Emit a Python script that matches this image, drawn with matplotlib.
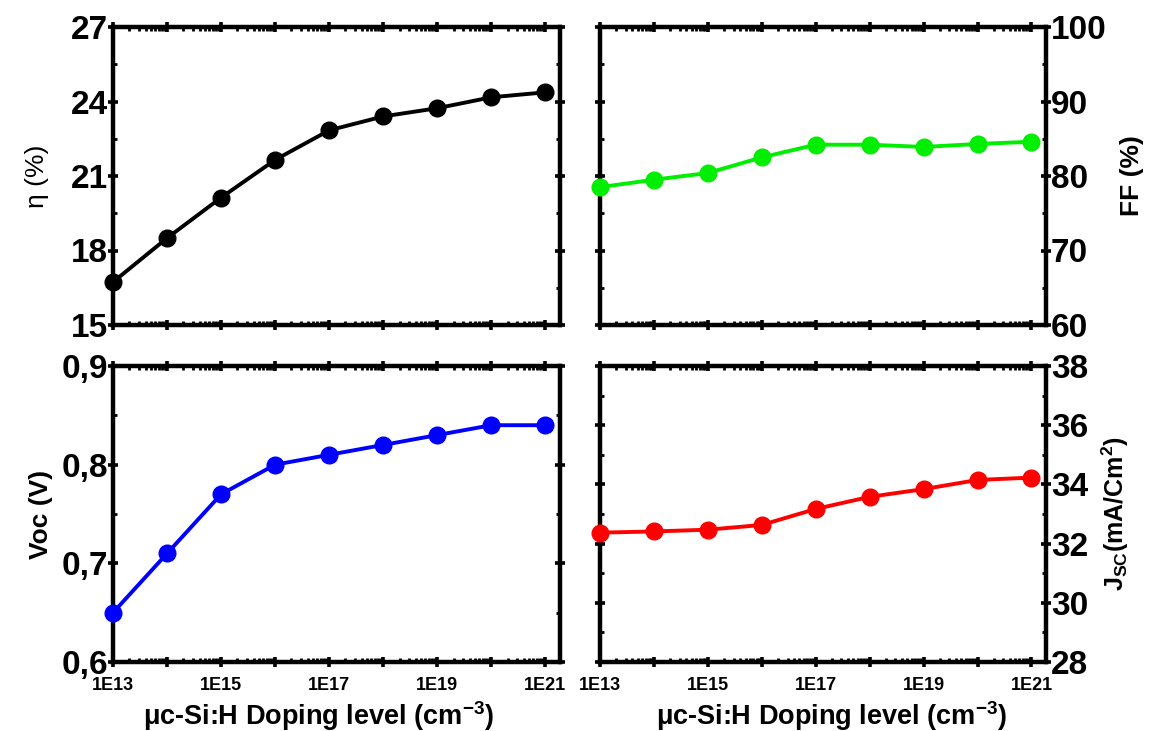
import numpy as np
import matplotlib
matplotlib.use("Agg")
import matplotlib.pyplot as plt
from matplotlib.ticker import LogLocator, FixedLocator, MultipleLocator, NullFormatter, FuncFormatter

plt.rcParams['font.family'] = ['Liberation Sans', 'DejaVu Sans']
plt.rcParams['font.weight'] = 'bold'
plt.rcParams['mathtext.fontset'] = 'custom'
plt.rcParams['mathtext.rm'] = 'Liberation Sans:bold'
plt.rcParams['mathtext.bf'] = 'Liberation Sans:bold'
plt.rcParams['mathtext.default'] = 'bf'

# doping levels of the uc-Si:H layer (cm^-3)
doping = [1e13, 1e14, 1e15, 1e16, 1e17, 1e18, 1e19, 1e20, 1e21]

eta = [16.73, 18.5, 20.13, 21.65, 22.84, 23.4, 23.73, 24.17, 24.37]
ff = [78.5, 79.5, 80.4, 82.5, 84.2, 84.2, 83.9, 84.3, 84.6]
voc = [0.65, 0.71, 0.77, 0.80, 0.81, 0.82, 0.83, 0.84, 0.84]
jsc = [32.37, 32.41, 32.47, 32.63, 33.17, 33.58, 33.84, 34.15, 34.23]

x_labels = ['1E13', '', '1E15', '', '1E17', '', '1E19', '', '1E21']

fig = plt.figure(figsize=(11.51, 7.31), dpi=100)

W, H = 1151.0, 731.0
def box(l, r, t, b):
    return [l / W, 1 - b / H, (r - l) / W, (b - t) / H]

ax_eta = fig.add_axes(box(113, 560, 27, 325))
ax_ff = fig.add_axes(box(600, 1046, 27, 325))
ax_voc = fig.add_axes(box(113, 560, 366, 662))
ax_jsc = fig.add_axes(box(600, 1046, 366, 662))


def style(ax, y, color, ylim, major, minor, bottom_row, right_side, fmt=None):
    ax.plot(doping, y, '-o', color=color, lw=2.8, ms=12, clip_on=False, zorder=3)
    ax.set_xscale('log')
    ax.set_xlim(1e13, 10 ** 21.27)
    ax.set_ylim(*ylim)
    ax.xaxis.set_major_locator(FixedLocator(doping))
    ax.xaxis.set_minor_locator(LogLocator(base=10, subs=np.arange(2, 10), numticks=30))
    ax.xaxis.set_minor_formatter(NullFormatter())
    if bottom_row:
        ax.set_xticklabels(x_labels)
    else:
        ax.set_xticklabels([''] * len(doping))
    ax.yaxis.set_major_locator(MultipleLocator(major))
    ax.yaxis.set_minor_locator(MultipleLocator(minor))
    if fmt is not None:
        ax.yaxis.set_major_formatter(FuncFormatter(fmt))
    for s in ax.spines.values():
        s.set_linewidth(3.2)
    ax.tick_params(which='major', direction='inout', length=7, width=2.6,
                   top=True, right=True, left=True, bottom=True)
    ax.tick_params(which='minor', direction='in', length=3, width=2,
                   top=True, right=True, left=True, bottom=True)
    ax.tick_params(axis='x', which='major', labelsize=13, pad=7)
    ax.tick_params(axis='y', which='major', labelsize=24, pad=0)
    if right_side:
        ax.tick_params(axis='y', labelleft=False, labelright=True)
    for lab in ax.get_xticklabels() + ax.get_yticklabels():
        lab.set_fontweight('bold')


style(ax_eta, eta, 'black', (15, 27), 3, 1.5, False, False)
style(ax_ff, ff, '#00ee00', (60, 100), 10, 5, False, True)
style(ax_voc, voc, '#0000ff', (0.6, 0.9), 0.1, 0.05, True, False,
      fmt=lambda v, p: ('%.1f' % v).replace('.', ','))
style(ax_jsc, jsc, '#ff0000', (28, 38), 2, 1, True, True)

ax_eta.set_ylabel('η (%)', fontsize=19, fontweight='normal', labelpad=16)
ax_voc.set_ylabel('Voc (V)', fontsize=19, fontweight='bold', labelpad=6)
ax_ff.yaxis.set_label_position('right')
ax_ff.set_ylabel('FF (%)', fontsize=19, fontweight='bold', labelpad=10)
ax_jsc.yaxis.set_label_position('right')
ax_jsc.set_ylabel(r'J$_{\mathrm{SC}}$(mA/Cm$^{2}$)', fontsize=18, fontweight='bold', labelpad=8)

xlab = r'μc-Si:H Doping level (cm$^{-3}$)'
ax_voc.set_xlabel(xlab, fontsize=19.5, fontweight='bold')
ax_jsc.set_xlabel(xlab, fontsize=19.5, fontweight='bold')
ax_voc.xaxis.set_label_coords(0.46, -0.125)
ax_jsc.xaxis.set_label_coords(0.52, -0.125)

fig.savefig('out.png', dpi=100)
